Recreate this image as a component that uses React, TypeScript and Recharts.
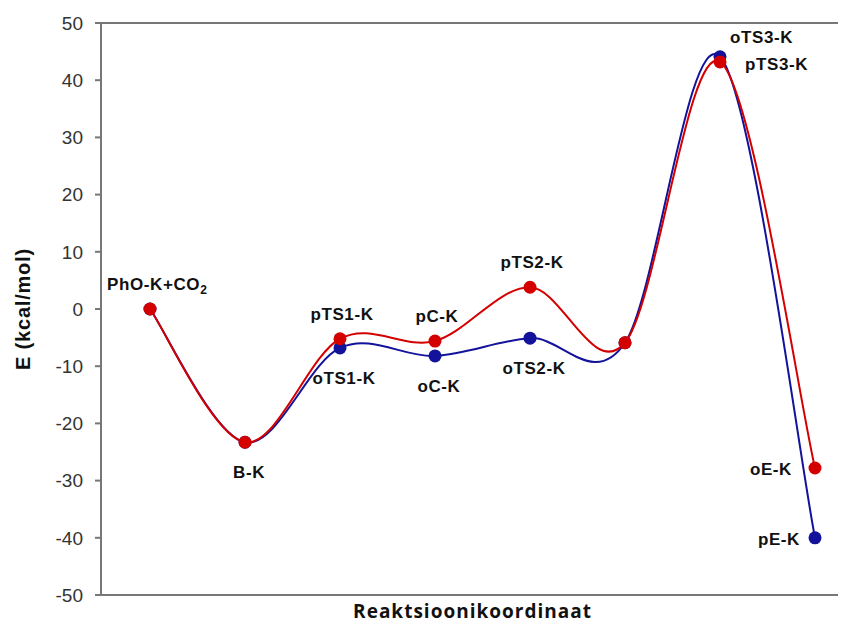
import React from "react";
import {
  LineChart,
  Line,
  XAxis,
  YAxis,
  ReferenceLine,
  LabelList,
  Label,
} from "recharts";

// Reaction coordinate stages (one point per stage)
const stages = ["PhO-K+CO2", "B-K", "TS1-K", "C-K", "TS2-K", "I-K", "TS3-K", "E-K"];

// Energies in kcal/mol
const redValues = [0, -23.3, -5.2, -5.6, 3.8, -5.9, 43.2, -27.8];
const blueValues = [0, -23.3, -6.8, -8.2, -5.1, -5.9, 44.1, -40.0];

const yTicks = [-50, -40, -30, -20, -10, 0, 10, 20, 30, 40, 50];

// Point labels: which series, which stage, and where the text sits
const pointLabels = [
  { series: "red", index: 0, text: "PhO-K+CO", sub: "2", place: "aboveWide" },
  { series: "red", index: 1, text: "B-K", place: "below" },
  { series: "red", index: 2, text: "pTS1-K", place: "above" },
  { series: "red", index: 3, text: "pC-K", place: "above" },
  { series: "red", index: 4, text: "pTS2-K", place: "above" },
  { series: "red", index: 6, text: "pTS3-K", place: "right" },
  { series: "red", index: 7, text: "oE-K", place: "left" },
  { series: "blue", index: 2, text: "oTS1-K", place: "below" },
  { series: "blue", index: 3, text: "oC-K", place: "below" },
  { series: "blue", index: 4, text: "oTS2-K", place: "below" },
  { series: "blue", index: 6, text: "oTS3-K", place: "upperRight" },
  { series: "blue", index: 7, text: "pE-K", place: "leftNear" },
];

const RED = "#d40000";
const BLUE = "#12129a";
const FONT = "'Liberation Sans', Arial, sans-serif";

const chartData = stages.map((stage, i) => ({
  x: i,
  stage,
  red: redValues[i],
  blue: blueValues[i],
}));

// Excel-like smoothed line (Catmull-Rom through every point)
const excelSmooth = (context: any) => {
  let pts: number[][] = [];
  return {
    areaStart() {},
    areaEnd() {},
    lineStart() {
      pts = [];
    },
    point(x: number, y: number) {
      pts.push([+x, +y]);
    },
    lineEnd() {
      if (!pts.length) return;
      context.moveTo(pts[0][0], pts[0][1]);
      for (let i = 0; i < pts.length - 1; i++) {
        const p0 = pts[Math.max(i - 1, 0)];
        const p1 = pts[i];
        const p2 = pts[i + 1];
        const p3 = pts[Math.min(i + 2, pts.length - 1)];
        context.bezierCurveTo(
          p1[0] + (p2[0] - p0[0]) / 6,
          p1[1] + (p2[1] - p0[1]) / 6,
          p2[0] - (p3[0] - p1[0]) / 6,
          p2[1] - (p3[1] - p1[1]) / 6,
          p2[0],
          p2[1]
        );
      }
    },
  };
};

const placements: Record<string, { dx: number; dy: number; anchor: string }> = {
  above: { dx: 2, dy: -19, anchor: "middle" },
  aboveWide: { dx: -43, dy: -19, anchor: "start" },
  below: { dx: 4, dy: 36, anchor: "middle" },
  right: { dx: 25, dy: 8, anchor: "start" },
  left: { dx: -23, dy: 7, anchor: "end" },
  leftNear: { dx: -15, dy: 7, anchor: "end" },
  upperRight: { dx: 10, dy: -14, anchor: "start" },
};

const makeLabel = (series: string) => (props: any) => {
  const { x, y, index } = props;
  const lbl = pointLabels.find((l) => l.series === series && l.index === index);
  if (!lbl) return null;
  const p = placements[lbl.place];
  return (
    <text
      x={x + p.dx}
      y={y + p.dy}
      textAnchor={p.anchor}
      fontFamily={FONT}
      fontWeight="bold"
      fontSize={17}
      letterSpacing={0.6}
      fill="#111"
    >
      {lbl.text}
      {lbl.sub && (
        <tspan fontSize={12} dy={4}>
          {lbl.sub}
        </tspan>
      )}
    </text>
  );
};

const YLabel = (props: any) => {
  const { viewBox } = props;
  const cx = viewBox.x + 15;
  const cy = viewBox.y + viewBox.height / 2;
  return (
    <text
      x={cx}
      y={cy}
      transform={`rotate(-90, ${cx}, ${cy})`}
      textAnchor="middle"
      dominantBaseline="central"
      fontFamily={FONT}
      fontWeight="bold"
      fontSize={20}
      letterSpacing={0.8}
      fill="#111"
    >
      E (kcal/mol)
    </text>
  );
};

const XLabel = (props: any) => {
  const { viewBox } = props;
  return (
    <text
      x={viewBox.x + viewBox.width / 2 + 3}
      y={viewBox.y + 23}
      textAnchor="middle"
      fontFamily="'Open Sans', sans-serif"
      fontWeight="bold"
      fontSize={19}
      letterSpacing={1}
      fill="#111"
    >
      Reaktsioonikoordinaat
    </text>
  );
};

export default function App() {
  return (
    <div style={{ fontFamily: FONT, background: "#fff" }}>
      <LineChart
        width={834}
        height={617}
        data={chartData}
        margin={{ top: 15, right: 4, left: 0, bottom: 0 }}
      >
        <XAxis
          dataKey="x"
          type="number"
          domain={[-0.516, 7.242]}
          tick={false}
          tickLine={false}
          height={30}
          stroke="#777"
          strokeWidth={2}
        >
          <Label content={<XLabel />} />
        </XAxis>
        <YAxis
          type="number"
          domain={[-50, 50]}
          ticks={yTicks}
          width={93}
          stroke="#777"
          strokeWidth={2}
          tickSize={6}
          tickMargin={12}
          tick={{ fontFamily: FONT, fontSize: 19, fill: "#333" }}
        >
          <Label content={<YLabel />} />
        </YAxis>
        <ReferenceLine y={50} stroke="#777" strokeWidth={2} />
        <Line
          dataKey="blue"
          type={excelSmooth as any}
          stroke={BLUE}
          strokeWidth={2}
          dot={{ r: 6.5, fill: BLUE, stroke: "none" }}
          activeDot={false}
          isAnimationActive={false}
        >
          <LabelList dataKey="blue" content={makeLabel("blue")} />
        </Line>
        <Line
          dataKey="red"
          type={excelSmooth as any}
          stroke={RED}
          strokeWidth={2}
          dot={{ r: 6.5, fill: RED, stroke: "none" }}
          activeDot={false}
          isAnimationActive={false}
        >
          <LabelList dataKey="red" content={makeLabel("red")} />
        </Line>
      </LineChart>
    </div>
  );
}
